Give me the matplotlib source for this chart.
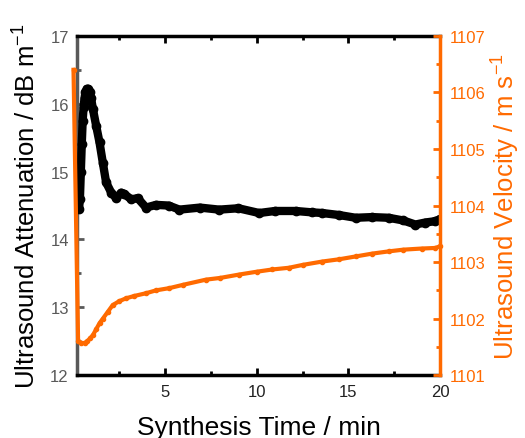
import matplotlib
matplotlib.use("Agg")
import matplotlib.pyplot as plt
from matplotlib.ticker import MultipleLocator

plt.rcParams['font.family'] = ['Liberation Sans', 'DejaVu Sans']
plt.rcParams['mathtext.fontset'] = 'custom'
plt.rcParams['mathtext.rm'] = 'Liberation Sans'
plt.rcParams['mathtext.it'] = 'Liberation Sans'

# Attenuation (black, left axis)
att_time = [0.30, 0.35, 0.40, 0.45, 0.50, 0.55, 0.60, 0.65, 0.72, 0.80, 0.88, 0.96, 1.06, 1.24,
            1.42, 1.60, 1.78, 2.06, 2.33, 2.60, 2.78, 3.15, 3.50, 3.96, 4.50, 5.20,
            5.78, 6.90, 7.95, 9.00, 10.13, 11.00, 12.13, 13.00, 13.58, 14.50, 15.40,
            16.30, 17.20, 18.00, 18.66, 19.20, 19.75, 20.00]
att_vals = [14.45, 14.60, 15.00, 15.40, 15.75, 15.95, 16.08, 16.17, 16.22, 16.22, 16.17, 16.08, 15.92, 15.67,
            15.43, 15.13, 14.84, 14.69, 14.61, 14.69, 14.67, 14.59, 14.61, 14.47, 14.51, 14.50,
            14.44, 14.47, 14.44, 14.46, 14.39, 14.42, 14.42, 14.40, 14.39, 14.36, 14.32,
            14.33, 14.32, 14.28, 14.22, 14.25, 14.27, 14.30]

# Velocity (orange, right axis)
vel_time = [0.0, 0.25, 0.40, 0.60, 0.75, 0.90, 1.06, 1.25, 1.42, 1.60, 1.87, 2.14, 2.50,
            2.87, 3.30, 3.96, 4.50, 5.23, 6.00, 7.23, 8.00, 9.04, 10.00, 10.86, 11.76,
            12.50, 13.58, 14.50, 15.40, 16.30, 17.21, 18.00, 19.00, 19.75, 20.00]
vel_vals = [1106.4, 1101.60, 1101.57, 1101.57, 1101.60, 1101.65, 1101.71, 1101.82, 1101.92,
            1102.00, 1102.12, 1102.24, 1102.31, 1102.36, 1102.40, 1102.45, 1102.50, 1102.54,
            1102.60, 1102.69, 1102.72, 1102.78, 1102.83, 1102.87, 1102.90, 1102.95, 1103.01,
            1103.05, 1103.10, 1103.15, 1103.19, 1103.22, 1103.24, 1103.25, 1103.28]

x_ticks = [5, 10, 15, 20]
left_ticks = [12, 13, 14, 15, 16, 17]
right_ticks = [1101, 1102, 1103, 1104, 1105, 1106, 1107]

ORANGE = '#FF6A00'
GRAY = '#595959'

fig = plt.figure(figsize=(5.25, 4.39), dpi=100)
ax = fig.add_axes([0.147, 0.143, 0.691, 0.773])
ax2 = ax.twinx()

ax.plot(att_time, att_vals, color='black', lw=6, marker='o', ms=6, zorder=3,
        solid_capstyle='round', solid_joinstyle='round')
ax2.plot(vel_time, vel_vals, color=ORANGE, lw=3, marker='o', ms=3, zorder=3,
         clip_on=False, solid_joinstyle='round')

ax.set_xlim(0.2, 20)
ax.set_ylim(12, 17)
ax2.set_ylim(1101, 1107)

ax.set_xticks(x_ticks)
ax.set_yticks(left_ticks)
ax2.set_yticks(right_ticks)
ax.xaxis.set_minor_locator(MultipleLocator(2.5))
ax.yaxis.set_minor_locator(MultipleLocator(0.5))
ax2.yaxis.set_minor_locator(MultipleLocator(0.5))

for sp in ['top', 'bottom']:
    ax.spines[sp].set_linewidth(2.5)
    ax.spines[sp].set_color('black')
ax.spines['left'].set_linewidth(2.5)
ax.spines['left'].set_color(GRAY)
ax2.spines['right'].set_linewidth(2.5)
ax2.spines['right'].set_color(ORANGE)
ax2.spines['left'].set_visible(False)
ax2.spines['top'].set_visible(False)
ax2.spines['bottom'].set_visible(False)
ax.spines['right'].set_visible(False)

ax.tick_params(axis='x', which='both', direction='in', top=True, width=2, colors='black',
               labelsize=12, labelcolor='#222222', pad=6)
ax.tick_params(axis='x', which='major', length=5)
ax.tick_params(axis='x', which='minor', length=3)
ax.tick_params(axis='y', which='both', direction='in', width=2, color=GRAY,
               labelsize=12, labelcolor=GRAY, pad=6)
ax.tick_params(axis='y', which='major', length=5)
ax.tick_params(axis='y', which='minor', length=3)
ax2.tick_params(axis='y', which='both', direction='in', width=2, color=ORANGE,
                labelsize=12, labelcolor=ORANGE, pad=7)
ax2.tick_params(axis='y', which='major', length=5)
ax2.tick_params(axis='y', which='minor', length=3)

ax.set_xlabel('Synthesis Time / min', fontsize=19, labelpad=12)
ax.set_ylabel('Ultrasound Attenuation / dB m$^{-1}$', fontsize=18.5, labelpad=7)
ax2.set_ylabel('Ultrasound Velocity / m s$^{-1}$', fontsize=18.5, color=ORANGE, labelpad=3)

fig.savefig('out.png', dpi=100)
